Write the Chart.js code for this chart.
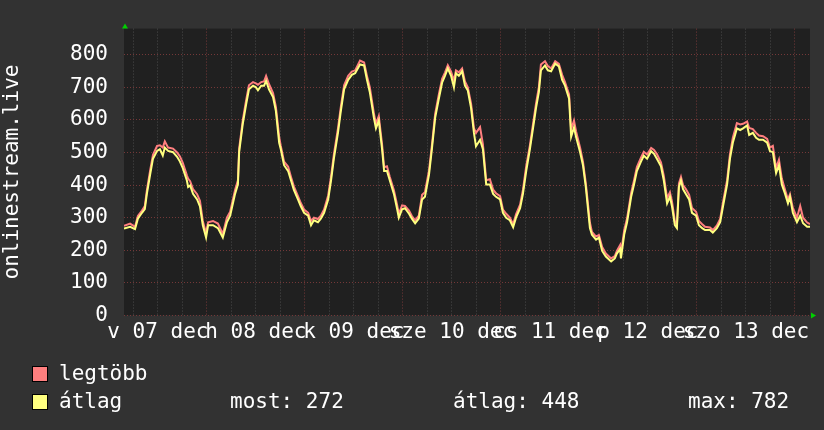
<!DOCTYPE html>
<html>
<head>
<meta charset="utf-8">
<script src="https://cdn.jsdelivr.net/npm/chart.js@4.4.1/dist/chart.umd.min.js"></script>
<style>
  html, body { margin: 0; padding: 0; background: #323232; }
  #wrap { position: relative; width: 824px; height: 430px; overflow: hidden; }
  canvas { position: absolute; left: 0; top: 0; }
  .lg { position: absolute; font-family: "DejaVu Sans Mono", monospace; font-size: 21px;
        line-height: 21px; color: #fff; white-space: pre; }
  .sw { position: absolute; width: 14px; height: 14px; border: 1px solid #000; }
</style>
</head>
<body>
<div id="wrap">
  <canvas id="graph" width="824" height="430"></canvas>
  <div class="sw" style="left:32px;top:366px;background:#ff7f7f"></div>
  <div class="lg" style="left:59px;top:363px">legtöbb</div>
  <div class="sw" style="left:32px;top:394px;background:#ffff7f"></div>
  <div class="lg" style="left:59px;top:391px">átlag</div>
  <div class="lg" id="most" style="left:230px;top:391px"></div>
  <div class="lg" id="avg" style="left:453px;top:391px"></div>
  <div class="lg" id="max" style="left:688px;top:391px"></div>
</div>
<script>
// hours since 07 dec 00:00
const hours = [3.7,5.2,6.4,7.1,8.1,8.8,9.3,10.1,10.8,11.8,
  12.5,13.2,13.7,14.5,15.7,16.7,17.4,18.1,19.1,19.4,
  19.9,20.6,21.6,22.3,23.0,23.8,24.3,25.5,26.7,27.9,
  28.9,29.7,30.9,31.6,31.9,32.8,33.6,34.3,35.3,36.0,
  36.5,37.3,38.0,38.5,39.2,40.2,40.9,41.7,42.1,42.9,
  43.9,44.6,45.3,46.3,47.0,47.8,48.8,49.5,50.2,51.2,
  51.9,52.7,53.7,54.4,55.1,56.1,56.8,57.6,58.6,59.5,
  60.3,61.5,62.5,63.2,63.9,64.9,65.4,66.1,66.9,67.4,
  68.1,68.8,69.8,70.6,71.0,71.8,72.5,73.5,74.2,75.0,
  75.9,76.7,77.4,78.4,79.1,79.9,80.8,81.6,82.3,83.0,
  83.8,84.5,85.0,85.7,86.5,87.2,87.9,88.7,89.4,89.9,
  90.9,91.6,92.4,93.3,94.1,94.8,95.8,96.5,97.3,98.2,
  99.0,99.7,100.7,101.4,102.2,103.1,103.9,104.6,105.3,105.8,
  106.8,107.5,108.3,109.3,110.2,111.0,111.7,112.7,113.2,113.9,
  114.4,115.4,116.1,116.8,117.8,118.3,119.3,120.0,120.8,121.7,
  123.0,123.9,124.4,125.2,125.4,126.2,126.9,127.9,128.6,129.3,
  130.3,131.0,131.8,132.8,133.5,134.2,135.2,135.9,136.7,137.4,
  137.9,138.6,139.1,139.6,140.1,140.6,141.3,142.1,142.8,143.8,
  144.5,145.3,146.0,147.2,147.9,148.9,149.7,150.4,151.4,152.1,
  152.8,153.8,154.6,155.3,156.3,156.8,157.7,158.5,159.2,160.2,
  161.2,161.9,162.6,163.4,164.1,164.8,165.6,166.3,166.8,167.5,
  168.5,169.3,170.0,171.0,171.7];

const atlag = [267,272,265,297,315,326,373,432,481,505,
  510,491,515,505,501,487,472,452,414,394,
  399,373,356,335,277,239,277,277,268,239,
  286,306,373,402,501,589,647,694,705,700,
  691,705,705,720,694,670,627,530,510,461,
  443,414,385,356,335,315,306,277,292,286,
  297,315,356,414,481,560,627,694,723,738,
  743,770,767,723,685,606,574,598,510,443,
  443,414,373,326,300,326,329,312,297,283,
  297,356,364,432,510,606,665,714,735,758,
  735,700,743,735,749,705,690,636,560,519,
  539,510,402,402,373,364,356,315,300,292,
  271,300,329,373,443,510,577,636,685,752,
  767,752,749,773,764,723,705,665,548,577,
  548,501,461,394,268,248,233,239,198,181,
  166,175,190,204,175,248,286,364,402,443,
  472,490,481,504,496,481,458,414,344,364,
  335,277,268,394,414,388,373,356,315,306,
  277,268,262,262,254,268,286,335,402,481,
  530,574,569,574,583,554,560,545,539,539,
  530,504,501,437,461,402,373,344,364,315,
  286,306,283,272,272];

const legtobb = [275,282,272,305,322,336,384,445,493,520,
  522,515,534,515,512,500,488,468,430,420,
  412,388,372,352,290,252,286,290,282,250,
  300,318,385,415,512,600,660,706,716,712,
  708,716,718,735,710,682,640,548,520,472,
  456,425,396,366,345,325,315,290,300,296,
  306,325,368,426,494,574,640,706,735,748,
  752,782,776,735,700,620,588,612,525,455,
  458,425,384,338,312,338,336,322,305,292,
  306,370,378,445,522,618,678,726,745,768,
  748,720,752,746,758,718,700,650,575,560,
  578,525,415,418,386,375,366,325,312,300,
  280,310,340,385,458,522,590,650,700,770,
  780,765,758,780,772,738,716,678,570,598,
  565,515,472,405,285,256,242,247,210,190,
  175,182,198,216,190,262,298,376,414,455,
  484,502,494,514,508,495,470,428,360,378,
  350,290,275,405,425,400,388,370,330,318,
  290,280,272,270,262,276,296,348,415,495,
  545,590,586,588,595,575,572,560,552,550,
  542,515,520,452,478,420,385,356,372,330,
  300,336,300,285,280];

const dayLabels = ['v 07 dec', 'h 08 dec', 'k 09 dec', 'sze 10 dec', 'cs 11 dec', 'p 12 dec', 'szo 13 dec'];
const xRange = [3.7, 171.7];
const yRange = [0, 880];
const stats = { most: 272, atlag: 448, max: 782 };

document.getElementById('most').textContent = 'most: ' + stats.most;
document.getElementById('avg').textContent = 'átlag: ' + stats.atlag;
document.getElementById('max').textContent = 'max: ' + stats.max;

const FONT = "'DejaVu Sans Mono', monospace";
const MINOR = '#4a4a4a';
const MAJOR = '#743838';

const rrdFrame = {
  id: 'rrdFrame',
  beforeDraw(chart) {
    const { ctx, chartArea: a } = chart;
    ctx.save();
    ctx.fillStyle = '#202020';
    ctx.fillRect(a.left, a.top, a.right - a.left, a.bottom - a.top);
    ctx.restore();
  },
  afterDraw(chart) {
    const { ctx, chartArea: a } = chart;
    ctx.save();
    ctx.fillStyle = '#00d000';
    ctx.beginPath();
    ctx.moveTo(a.left + 1, a.top - 5);
    ctx.lineTo(a.left - 2, a.top);
    ctx.lineTo(a.left + 4, a.top);
    ctx.closePath();
    ctx.fill();
    ctx.beginPath();
    ctx.moveTo(a.right + 6, a.bottom);
    ctx.lineTo(a.right + 1, a.bottom - 3);
    ctx.lineTo(a.right + 1, a.bottom + 3);
    ctx.closePath();
    ctx.fill();
    ctx.restore();
  }
};

const toPoints = arr => hours.map((h, i) => ({ x: h, y: arr[i] }));

new Chart(document.getElementById('graph'), {
  type: 'line',
  data: {
    datasets: [
      { label: 'átlag', data: toPoints(atlag), borderColor: '#ffff7f', borderWidth: 2, order: 0 },
      { label: 'legtöbb', data: toPoints(legtobb), borderColor: '#ff7f7f', borderWidth: 2, order: 1 }
    ]
  },
  options: {
    responsive: false,
    animation: false,
    layout: { padding: { left: 0, right: 14, top: 13, bottom: 0 } },
    elements: { point: { radius: 0 }, line: { tension: 0 } },
    plugins: { legend: { display: false }, tooltip: { enabled: false } },
    scales: {
      x: {
        type: 'linear',
        min: xRange[0],
        max: xRange[1],
        afterBuildTicks: s => {
          const t = [];
          for (let h = 6; h < xRange[1]; h += 6) t.push({ value: h });
          s.ticks = t;
        },
        afterFit: s => { s.height = 114.5; },
        ticks: {
          autoSkip: false, maxRotation: 0, minRotation: 0, padding: 4,
          color: '#ffffff', font: { family: FONT, size: 21 },
          callback: v => (v % 24 === 12 ? dayLabels[(v - 12) / 24] : '')
        },
        grid: {
          drawTicks: false, lineWidth: 1,
          color: c => (c.tick && c.tick.value % 24 === 0 ? MAJOR : MINOR)
        },
        border: { display: false, dash: [1, 2] }
      },
      y: {
        min: yRange[0],
        max: yRange[1],
        afterFit: s => { s.width = 124; },
        ticks: {
          stepSize: 20, padding: 16, color: '#ffffff', font: { family: FONT, size: 21 },
          callback: v => (v % 100 === 0 ? String(v) : '')
        },
        grid: {
          drawTicks: false, lineWidth: 1,
          color: c => (c.tick && c.tick.value % 100 === 0 ? MAJOR : MINOR)
        },
        border: { display: false, dash: [1, 2] },
        title: {
          display: true, text: 'onlinestream.live', color: '#ffffff',
          font: { family: FONT, size: 21 }, padding: 0
        }
      }
    }
  },
  plugins: [rrdFrame]
});
</script>
</body>
</html>
